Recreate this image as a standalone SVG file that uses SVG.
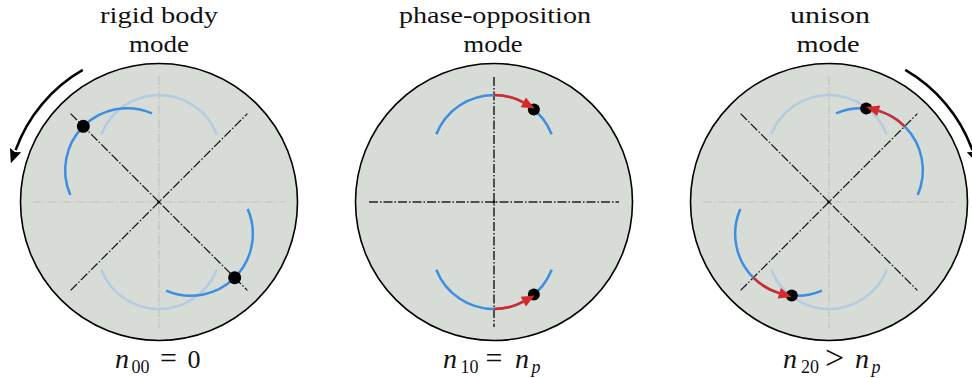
<svg xmlns="http://www.w3.org/2000/svg" width="972" height="378" viewBox="0 0 972 378">
<defs>
<marker id="ahBlack" markerUnits="userSpaceOnUse" markerWidth="14" markerHeight="12" viewBox="0 0 14 12" refX="0" refY="6" orient="auto" overflow="visible">
<path d="M0,0 L14,6 L0,12 L2,6 z" fill="#000"/>
</marker>
<marker id="ahRed" markerUnits="userSpaceOnUse" markerWidth="13" markerHeight="11" viewBox="0 0 13 11" refX="0" refY="5.5" orient="auto" overflow="visible">
<path d="M0,0 L13,5.5 L0,11 z" fill="#d42a2a"/>
</marker>
</defs>
<style>
.disk{fill:#d7dcd6;stroke:#000;stroke-width:1.6}
.ax{stroke:#bfc4bf;stroke-width:1.2;fill:none;stroke-dasharray:9 2 1.5 2}
.diag{stroke:#111;stroke-width:1.2;fill:none;stroke-dasharray:9 2 1.5 2}
.axd{stroke:#222;stroke-width:1.5;fill:none;stroke-dasharray:9 2 1.5 2}
.faded{stroke:#b5cbe0;stroke-width:2.5;fill:none}
.blue{stroke:#3d8ee3;stroke-width:2.5;fill:none}
.red{stroke:#d42a2a;stroke-width:2.5;fill:none;marker-end:url(#ahRed)}
.dot{fill:#000}
.rot{stroke:#000;stroke-width:2.5;fill:none;marker-end:url(#ahBlack)}
.t{font-family:"Liberation Serif",serif;font-size:24px;fill:#111;text-anchor:middle}
.m{font-family:"Liberation Serif",serif;fill:#111}
.mi{font-style:italic}
</style>

<g id="rigid-body-mode">
<circle class="disk" cx="159" cy="202" r="138.5"/>
<line class="ax" x1="33" y1="202" x2="285" y2="202"/>
<line class="ax" x1="159" y1="76" x2="159" y2="328"/>
<path class="faded" d="M101.31 134.28 A62 62 0 0 1 216.69 134.28"/>
<path class="faded" d="M101.31 269.72 A62 62 0 0 0 216.69 269.72"/>
<line class="diag" x1="70.6" y1="113.6" x2="247.4" y2="290.4"/>
<line class="diag" x1="70.6" y1="290.4" x2="247.4" y2="113.6"/>
<g transform="rotate(-45 159 202)">
<path class="blue" d="M101.31 134.28 A62 62 0 0 1 216.69 134.28"/>
<path class="blue" d="M101.31 269.72 A62 62 0 0 0 216.69 269.72"/>
<circle class="dot" cx="159" cy="95" r="6.5"/>
<circle class="dot" cx="159" cy="309" r="6.5"/>
</g>
<circle class="dot" cx="159" cy="202" r="1.5"/>
<text class="t" x="159" y="23" textLength="118" lengthAdjust="spacingAndGlyphs">rigid body</text>
<text class="t" x="159" y="52" textLength="60" lengthAdjust="spacingAndGlyphs">mode</text>
<text class="m mi" x="115" y="368" font-size="28">n</text>
<text class="m" x="131.5" y="373" font-size="18">00</text>
<text class="m" x="160" y="368" font-size="30">=</text>
<text class="m" x="187.5" y="368" font-size="26">0</text>
</g>

<g id="phase-opposition-mode">
<circle class="disk" cx="494" cy="202" r="138.5"/>
<line class="axd" x1="369" y1="202" x2="619" y2="202"/>
<line class="axd" x1="494" y1="77" x2="494" y2="327"/>
<path class="blue" d="M436.31 134.28 A62 62 0 0 1 551.69 134.28"/>
<path class="blue" d="M436.31 269.72 A62 62 0 0 0 551.69 269.72"/>
<circle class="dot" cx="533.85" cy="109.5" r="6"/>
<circle class="dot" cx="533.85" cy="294.5" r="6"/>
<path class="red" d="M494 95 A62 62 0 0 1 523.3 102.4"/>
<path class="red" d="M494 309 A62 62 0 0 0 523.3 301.6"/>
<circle class="dot" cx="494" cy="202" r="1.5"/>
<text class="t" x="495" y="23" textLength="192" lengthAdjust="spacingAndGlyphs">phase-opposition</text>
<text class="t" x="493" y="52" textLength="59" lengthAdjust="spacingAndGlyphs">mode</text>
<text class="m mi" x="443" y="368" font-size="28">n</text>
<text class="m" x="460.5" y="373" font-size="18">10</text>
<text class="m" x="485.5" y="368" font-size="30">=</text>
<text class="m mi" x="515" y="368" font-size="28">n</text>
<text class="m mi" x="531.5" y="373" font-size="18">p</text>
</g>

<g id="unison-mode">
<circle class="disk" cx="829" cy="202" r="138.5"/>
<line class="ax" x1="703" y1="202" x2="955" y2="202"/>
<line class="ax" x1="829" y1="76" x2="829" y2="328"/>
<path class="faded" d="M771.31 134.28 A62 62 0 0 1 886.69 134.28"/>
<path class="faded" d="M771.31 269.72 A62 62 0 0 0 886.69 269.72"/>
<line class="diag" x1="740.6" y1="113.6" x2="917.4" y2="290.4"/>
<line class="diag" x1="740.6" y1="290.4" x2="917.4" y2="113.6"/>
<g transform="rotate(45 829 202)">
<path class="blue" d="M771.31 134.28 A62 62 0 0 1 886.69 134.28"/>
<path class="blue" d="M771.31 269.72 A62 62 0 0 0 886.69 269.72"/>
<circle class="dot" cx="789.15" cy="109.5" r="6"/>
<circle class="dot" cx="868.85" cy="294.5" r="6"/>
<path class="red" d="M829 95 A62 62 0 0 0 799.7 102.4"/>
<path class="red" d="M829 309 A62 62 0 0 0 858.3 301.6"/>
</g>
<circle class="dot" cx="829" cy="202" r="1.5"/>
<text class="t" x="830" y="23" textLength="80" lengthAdjust="spacingAndGlyphs">unison</text>
<text class="t" x="828" y="52" textLength="63" lengthAdjust="spacingAndGlyphs">mode</text>
<text class="m mi" x="783" y="368" font-size="28">n</text>
<text class="m" x="801" y="373" font-size="18">20</text>
<text class="m" x="825" y="369" font-size="34">&gt;</text>
<text class="m mi" x="855" y="368" font-size="28">n</text>
<text class="m mi" x="871.5" y="373" font-size="18">p</text>
</g>

<g id="connectors">
<path class="rot" d="M82.75 69.93 A152.5 152.5 0 0 0 15.6 150.1"/>
<path class="rot" d="M905.25 69.93 A152.5 152.5 0 0 1 972.4 150.1"/>
</g>
</svg>
